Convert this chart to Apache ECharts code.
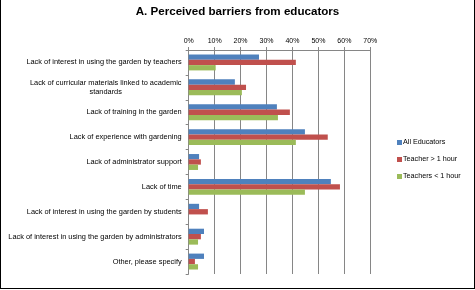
<!DOCTYPE html>
<html>
<head>
<meta charset="utf-8">
<script src="https://cdn.jsdelivr.net/npm/echarts@6/dist/echarts.min.js"></script>
<style>html,body{margin:0;padding:0;background:#fff;}#c{width:475px;height:290px;}</style>
</head>
<body>
<div id="c"></div>
<script>
var categories = [
  "Lack of interest in using the garden by teachers",
  "Lack of curricular materials linked to academic\nstandards",
  "Lack of training in the garden",
  "Lack of experience with gardening",
  "Lack of administrator support",
  "Lack of time",
  "Lack of interest in using the garden by students",
  "Lack of interest in using the garden by administrators",
  "Other, please specify"
];
var seriesNames = ["All Educators", "Teacher > 1 hour", "Teachers < 1 hour"];
var allEducators = [27.1, 17.8, 34.0, 44.8, 4.0, 54.8, 4.0, 5.9, 5.9];
var teacherOver1 = [41.3, 22.1, 39.0, 53.6, 4.7, 58.3, 7.4, 4.7, 2.4];
var teacherUnder1 = [10.4, 20.5, 34.4, 41.3, 3.6, 44.8, 0, 3.6, 3.6];
var xTicks = [0, 10, 20, 30, 40, 50, 60, 70];

var colors = ["#4F81BD", "#C0504D", "#9BBB59"];
var font = "Liberation Sans";
var labelSize = 7.4;
var measureCtx = document.createElement('canvas').getContext('2d');
measureCtx.font = labelSize + 'px "' + font + '"';

function catFormatter(v) {
  if (v.indexOf('\n') < 0) return v;
  var lines = v.split('\n');
  var w = 0;
  lines.forEach(function (l) { w = Math.max(w, measureCtx.measureText(l).width); });
  catRich.c.width = Math.ceil(w);
  return lines.map(function (l) { return '{c|' + l + '}'; }).join('\n');
}
var catRich = {c: {align: 'center', fontFamily: font, fontSize: labelSize, color: '#000', lineHeight: 9, width: 160}};
catFormatter(categories[1]);

var chart = echarts.init(document.getElementById('c'), null, {renderer: 'canvas'});
chart.setOption({
  animation: false,
  color: colors,
  title: {
    text: "A. Perceived barriers from educators",
    left: 'center', top: 1,
    textStyle: {fontFamily: font, fontSize: 11.6, fontWeight: 'bold', color: '#000'}
  },
  legend: {
    orient: 'vertical', left: 392, top: 134, itemGap: 10,
    itemWidth: 5, itemHeight: 5, icon: 'rect',
    textStyle: {fontFamily: font, fontSize: 7.2, color: '#000', padding: [0,0,0,-4]},
    data: seriesNames
  },
  grid: {left: 188.7, right: 104.7, top: 50, bottom: 16},
  xAxis: {
    type: 'value', position: 'top', min: xTicks[0], max: xTicks[xTicks.length-1], interval: 10,
    axisLine: {show: true, lineStyle: {color: '#868686', width: 1}},
    axisTick: {show: true, length: 3, lineStyle: {color: '#868686'}},
    axisLabel: {fontFamily: font, fontSize: 7, color: '#000', margin: 5, formatter: function(v){return v + '%';}},
    splitLine: {show: true, lineStyle: {color: '#868686', width: 1}}
  },
  yAxis: {
    type: 'category', inverse: true, data: categories,
    axisLine: {show: true, lineStyle: {color: '#868686', width: 1}},
    axisTick: {show: true, length: 3, lineStyle: {color: '#868686'}},
    axisLabel: {fontFamily: font, fontSize: labelSize, color: '#000', margin: 7, lineHeight: 9,
      formatter: catFormatter, rich: catRich}
  },
  series: [
    {name: seriesNames[0], type: 'bar', data: allEducators, barGap: '0%', barCategoryGap: '36%'},
    {name: seriesNames[1], type: 'bar', data: teacherOver1, barGap: '0%', barCategoryGap: '36%'},
    {name: seriesNames[2], type: 'bar', data: teacherUnder1, barGap: '0%', barCategoryGap: '36%'}
  ],
  graphic: [
    {type: 'line', shape: {x1: 0.5, y1: 0, x2: 0.5, y2: 289}, style: {stroke: '#000', lineWidth: 1}},
    {type: 'line', shape: {x1: 474.5, y1: 0, x2: 474.5, y2: 289}, style: {stroke: '#000', lineWidth: 1}},
    {type: 'line', shape: {x1: 0, y1: 288.5, x2: 475, y2: 288.5}, style: {stroke: '#000', lineWidth: 1}}
  ]
});
</script>
</body>
</html>
